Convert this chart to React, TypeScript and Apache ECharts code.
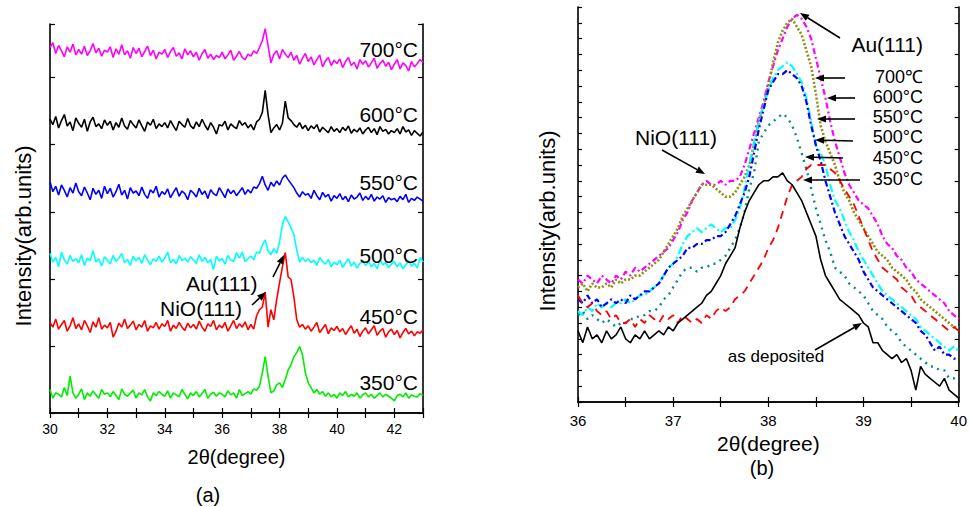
import React, { useEffect, useRef } from "react";
import * as echarts from "echarts";

// ---------- Panel (a): XRD patterns 30–43°, step 0.1 ----------
const A_X_START = 30;
const A_X_STEP = 0.1;
const A_X_TICKS = [30, 32, 34, 36, 38, 40, 42];

const a350 = [
  35, 22, 30, 28, 24, 38, 26, 55, 30, 22,
  28, 36, 20, 30, 25, 33, 27, 22, 35, 28,
  30, 24, 32, 26, 20, 36, 28, 25, 30, 34,
  22, 30, 27, 35, 24, 18, 30, 26, 32, 28,
  25, 33, 22, 30, 27, 24, 35, 28, 21, 30,
  26, 32, 24, 29, 35, 22, 28, 31, 25, 30,
  28, 24, 33, 27, 30, 22, 35, 26, 29, 32,
  28, 36, 34, 40, 60, 84, 55, 30, 33, 42,
  45, 38, 50, 64, 72, 84, 90, 99, 87, 60,
  45, 38, 30, 35, 28, 32, 25, 30, 24, 28,
  22, 30, 26, 32, 24, 28, 25, 30, 22, 27,
  30, 24, 28, 22, 26, 30, 24, 28, 25, 22,
  18, 26, 28, 24, 30, 22, 27, 25, 24, 29,
  26,
];
const a450 = [
  135, 128, 140, 125, 132, 138, 122, 130, 142, 126,
  133, 124, 138, 130, 120, 136, 128, 142, 125, 131,
  127, 135, 113, 122, 134, 128, 140, 126, 131, 137,
  124, 132, 128, 138, 122, 130, 127, 135, 125, 133,
  129, 138, 122, 131, 126, 135, 128, 123, 134, 127,
  132, 125, 137, 128, 122, 133, 129, 138, 124, 131,
  127, 135, 122, 130, 138, 126, 133, 128, 136, 124,
  132, 125, 145, 154, 158, 180, 128, 154, 139, 169,
  194, 218, 239, 203, 199, 173, 139, 128, 132, 125,
  130, 122, 128, 135, 120, 126, 132, 118, 127, 123,
  129, 121, 126, 117, 124, 130, 119, 125, 114, 122,
  127, 118, 124, 130, 116, 122, 126, 113, 121, 125,
  117, 123, 112, 120, 126, 118, 122, 115, 121, 119,
  124,
];
const a500 = [
  238, 225, 232, 218, 240, 228, 222, 235, 226, 230,
  224, 236, 220, 231, 227, 242, 225, 230, 219, 233,
  228, 222, 235, 226, 231, 238, 224, 229, 220, 234,
  227, 232, 223, 236, 228, 221, 230, 226, 234, 225,
  231, 240, 224, 229, 222, 235, 227, 231, 225, 233,
  228, 223, 236, 226, 232, 224, 229, 214, 234, 227,
  230, 222, 235, 228, 226, 239, 231, 240, 226, 230,
  234, 228, 240, 238, 250, 258, 242, 236, 245, 238,
  255, 281, 293, 285, 276, 266, 243, 225, 232, 226,
  230, 224, 228, 220, 232, 226, 222, 229, 218, 225,
  221, 228, 217, 224, 230, 219, 225, 216, 223, 227,
  220, 226, 218, 223, 215, 228, 221, 224, 217, 222,
  226, 218, 224, 215, 221, 227, 219, 223, 216, 232,
  225,
];
const a550 = [
  345, 330, 338, 325, 340, 332, 322, 336, 328, 343,
  330, 324, 337, 328, 318, 335, 326, 332, 320, 338,
  327, 335, 322, 330, 341, 325, 332, 319, 336, 328,
  331, 324, 337, 326, 320, 333, 328, 338, 322, 330,
  326, 334, 321, 329, 336, 323, 331, 327, 318, 332,
  328, 322, 335, 326, 331, 320, 333, 327, 324, 336,
  329, 321, 334, 327, 332, 324, 330, 336, 326, 333,
  328, 337, 335, 342, 353, 340, 332, 344, 338, 346,
  340, 350, 355, 348, 342, 336, 328, 322, 330, 325,
  327, 320, 332, 324, 318, 329, 322, 326, 316, 324,
  320, 327, 318, 323, 315, 325, 319, 322, 328, 317,
  323, 318, 326, 316, 322, 319, 324, 314, 321, 318,
  320, 315, 323, 318, 326, 314, 320, 317, 322, 319,
  316,
];
const a600 = [
  438, 430, 442, 425, 436, 445, 428, 434, 421, 440,
  432, 426, 438, 420, 434, 441, 427, 431, 424, 437,
  429, 435, 422, 433, 426, 440, 428, 423, 436, 430,
  425, 437, 428, 420, 434, 429, 438, 424, 431, 427,
  433, 425, 436, 428, 421, 435, 430, 426, 439, 428,
  424, 434, 427, 438, 429, 422, 433, 426, 416, 430,
  428, 435, 422, 431, 427, 424, 436, 429, 433, 425,
  430, 422, 434, 438, 448, 481, 445, 418, 425, 430,
  422, 432, 465, 440, 436, 430, 426, 433, 424, 429,
  421, 428, 424, 430, 419, 426, 422, 418, 427, 420,
  424, 418, 426, 421, 428, 417, 423, 419, 425, 416,
  422, 426, 418, 424, 415, 427, 420, 423, 416, 421,
  418, 424, 416, 427, 419, 422, 414, 421, 417, 413,
  419,
];
const a700 = [
  545, 552, 536, 548, 540, 531, 546, 538, 550, 534,
  542, 535, 547, 533, 540, 551, 537, 544, 532, 541,
  538, 546, 530, 543, 535, 549, 534, 540, 529, 545,
  536, 544, 531, 539, 547, 533, 541, 528, 538, 535,
  542, 530, 539, 545, 532, 537, 528, 543, 534, 540,
  531, 538, 526, 536, 542, 529, 535, 527, 533, 530,
  538, 528, 534, 541, 526, 532, 539, 530, 527, 535,
  532, 540, 536, 545, 555, 573, 548, 522, 535, 540,
  528, 542, 535, 530, 538, 526, 533, 520, 529, 536,
  524, 531, 519, 527, 534, 516, 525, 530, 518, 526,
  521, 528, 515, 524, 530, 518, 523, 513, 527, 520,
  525, 516, 522, 529, 514, 521, 526, 517, 523, 512,
  520, 527, 513, 522, 518, 510, 524, 516, 521, 527,
  523,
];
const A_LABELS = ["700°C", "600°C", "550°C", "500°C", "450°C", "350°C"];

// ---------- Panel (b): zoom 36–40°, step 0.05 ----------
const B_X_START = 36;
const B_X_STEP = 0.05;
const B_X_TICKS = [36, 37, 38, 39, 40];

const b700 = [
  31, 30, 32, 31, 30, 32, 31, 30, 32, 31,
  33, 32, 34, 33, 34, 35, 36, 37, 38, 39,
  41, 43, 46, 48, 51, 53, 55, 56, 55, 55,
  56, 55, 56, 56, 57, 60, 64, 68, 72, 76,
  81, 85, 89, 92, 95, 97, 98, 97, 95, 92,
  87, 82, 77, 71, 66, 62, 58, 55, 53, 51,
  50, 49, 47, 45, 42, 40, 39, 37, 36, 34,
  33, 31, 30, 29, 28, 27, 26, 25, 23, 22,
  21,
];
const b600 = [
  29, 30, 28, 30, 29, 29, 30, 29, 31, 30,
  31, 31, 32, 32, 33, 34, 35, 36, 38, 40,
  42, 44, 47, 49, 51, 53, 55, 55, 55, 54,
  53, 52, 52, 53, 55, 57, 60, 65, 71, 75,
  80, 86, 91, 94, 96, 97, 95, 93, 89, 85,
  78, 70, 66, 63, 60, 56, 53, 51, 48, 46,
  44, 42, 40, 38, 37, 36, 34, 33, 32, 31,
  29, 28, 26, 25, 24, 23, 22, 21, 20, 19,
  19,
];
const b550 = [
  23, 22, 24, 23, 25, 24, 25, 24, 25, 25,
  26, 25, 26, 27, 27, 28, 29, 30, 32, 34,
  35, 37, 40, 42, 43, 44, 43, 44, 45, 44,
  43, 44, 44, 46, 49, 54, 60, 66, 71, 75,
  79, 82, 84, 85, 86, 85, 83, 81, 77, 71,
  65, 63, 60, 55, 51, 49, 46, 43, 41, 38,
  36, 34, 32, 30, 28, 27, 26, 25, 24, 23,
  22, 21, 19, 18, 17, 16, 15, 14, 13, 14,
  13,
];
const b500 = [
  26, 25, 27, 25, 26, 24, 25, 26, 25, 26,
  25, 27, 26, 27, 28, 28, 29, 30, 32, 34,
  35, 36, 37, 39, 39, 40, 40, 41, 41, 42,
  42, 43, 45, 47, 50, 53, 57, 63, 69, 74,
  79, 81, 83, 83, 84, 83, 82, 80, 76, 70,
  65, 61, 56, 52, 48, 45, 42, 40, 38, 36,
  33, 31, 29, 28, 27, 26, 25, 24, 23, 22,
  21, 20, 18, 17, 15, 13, 14, 12, 12, 11,
  11,
];
const b450 = [
  22, 23, 21, 22, 21, 20, 21, 20, 19, 20,
  20, 21, 21, 22, 22, 23, 23, 24, 26, 27,
  29, 31, 33, 34, 34, 33, 34, 34, 35, 35,
  36, 37, 39, 41, 44, 48, 54, 58, 66, 68,
  70, 71, 72, 73, 72, 70, 67, 63, 59, 54,
  49, 45, 41, 38, 34, 33, 32, 30, 29, 28,
  27, 25, 23, 22, 21, 19, 18, 17, 15, 14,
  13, 12, 11, 10, 9, 9, 8, 8, 6, 6,
  5,
];
const b350 = [
  27, 25, 24, 25, 23, 22, 23, 21, 22, 20,
  20, 21, 19, 21, 20, 22, 21, 20, 22, 21,
  22, 20, 22, 21, 20, 21, 20, 22, 21, 23,
  24, 23, 24, 26, 27, 28, 30, 32, 34, 36,
  39, 41, 44, 48, 52, 55, 56, 57, 59, 60,
  60, 60, 60, 59, 58, 56, 54, 52, 50, 47,
  44, 41, 38, 36, 34, 33, 32, 31, 29, 28,
  27, 25, 24, 23, 22, 21, 20, 19, 18, 19,
  18,
];
const bDep = [
  18, 15, 19, 16, 17, 15, 18, 16, 17, 19,
  16, 15, 17, 16, 18, 16, 17, 18, 17, 19,
  18, 20, 21, 22, 23, 24, 25, 27, 28, 30,
  32, 35, 37, 39, 44, 48, 51, 53, 55, 56,
  56, 57, 57, 58, 56, 55, 53, 51, 48, 45,
  42, 36, 32, 30, 28, 26, 25, 24, 23, 22,
  20, 19, 15, 15, 13, 12, 11, 12, 10, 11,
  8, 3, 9, 7, 6, 5, 4, 6, 3, 2,
  1,
];
const B_LABELS = ["700℃", "600°C", "550°C", "500°C", "450°C", "350°C"];

const FONT = "Liberation Sans, Arial, sans-serif";

function pairs(start: number, step: number, vals: number[]) {
  return vals.map((v, i) => [+(start + i * step).toFixed(3), v]);
}

function arrow(x1: number, y1: number, x2: number, y2: number, head = 9, w = 3.5): any[] {
  const a = Math.atan2(y2 - y1, x2 - x1);
  const c = Math.cos(a), s = Math.sin(a);
  const bx = x2 - head * c, by = y2 - head * s;
  return [
    { type: "line", shape: { x1, y1, x2: bx, y2: by }, style: { stroke: "#000", lineWidth: 1.6 }, z: 100 },
    {
      type: "polygon",
      shape: { points: [[x2, y2], [bx + w * s, by - w * c], [bx - w * s, by + w * c]] },
      style: { fill: "#000" },
      z: 100,
    },
  ];
}

function txt(x: number, y: number, text: string, size: number, align = "left", rotation = 0): any {
  const style: any = { text, fontSize: size, fontFamily: FONT, fill: "#000", align, verticalAlign: "middle" };
  return { type: "text", x, y, rotation, z: 100, style };
}

export default function App() {
  const ref = useRef<HTMLDivElement>(null);
  useEffect(() => {
    if (!ref.current) return;
    const chart = echarts.init(ref.current, null, { renderer: "svg" });

    const axLine = { show: true, lineStyle: { color: "#000", width: 1.6 } };
    const tickIn = (len = 5) => ({ show: true, inside: true, length: len, lineStyle: { color: "#000", width: 1.2 } });
    const noSplit = { show: false };

    const aColors = ["#ff00ff", "#000000", "#0000ff", "#00ffff", "#ff0000", "#00ee00"];
    const aData = [a700, a600, a550, a500, a450, a350];

    const bDefs = [
      { d: b700, color: "#ff00ff", type: [6, 3, 2, 3], w: 2.2 },
      { d: b600, color: "#8e8e10", type: [2, 2], w: 2.6 },
      { d: b550, color: "#00ffff", type: [8, 3, 2, 3], w: 2.2 },
      { d: b500, color: "#0000ff", type: [6, 3, 2, 3], w: 2.2 },
      { d: b450, color: "#008b8b", type: [2, 5], w: 2.4 },
      { d: b350, color: "#ff0000", type: [8, 6], w: 1.8 },
      { d: bDep, color: "#000000", type: "solid", w: 1.6 },
    ];

    const series: any[] = [];
    aData.forEach((d, i) =>
      series.push({
        type: "line",
        xAxisIndex: 0,
        yAxisIndex: 0,
        data: pairs(A_X_START, A_X_STEP, d),
        showSymbol: false,
        lineStyle: { color: aColors[i], width: 1.6 },
        name: "a" + A_LABELS[i],
      })
    );
    bDefs.forEach((s, i) =>
      series.push({
        type: "line",
        xAxisIndex: 2,
        yAxisIndex: 2,
        data: pairs(B_X_START, B_X_STEP, s.d),
        showSymbol: false,
        lineStyle: { color: s.color, width: s.w, type: s.type },
        name: "b" + i,
      })
    );

    const graphics: any[] = [];
    // Panel (a) temperature labels
    const aLabelY = [49, 114, 182, 255, 316, 382];
    A_LABELS.forEach((t, i) => graphics.push(txt(418, aLabelY[i], t, 21, "right")));
    graphics.push(txt(186, 283, "Au(111)", 21));
    graphics.push(txt(160, 308, "NiO(111)", 21));
    graphics.push(...arrow(273, 277, 284, 255));
    graphics.push(...arrow(252, 305, 266, 292));
    graphics.push(txt(208, 495, "(a)", 20, "center"));
    graphics.push(txt(23, 236, "Intensity(arb.units)", 22, "center", Math.PI / 2));

    // Panel (b)
    const bLabelY = [77, 97, 117, 137, 158, 179];
    B_LABELS.forEach((t, i) => graphics.push(txt(923, bLabelY[i], t, 18, "right")));
    graphics.push(txt(923, 44, "Au(111)", 21, "right"));
    graphics.push(...arrow(840, 38, 800, 13));
    const bArrows = [
      [845, 78, 815, 78],
      [855, 98, 827, 98],
      [855, 119, 817, 119],
      [853, 141, 815, 140],
      [843, 158, 805, 157],
      [860, 180, 803, 180],
    ];
    bArrows.forEach((a) => graphics.push(...arrow(a[0], a[1], a[2], a[3])));
    graphics.push(txt(635, 137, "NiO(111)", 21));
    graphics.push(...arrow(662, 150, 705, 174));
    graphics.push(txt(776, 356, "as deposited", 17, "center"));
    graphics.push(...arrow(815, 350, 862, 323));
    graphics.push(txt(762, 468, "(b)", 20, "center"));
    graphics.push(txt(547, 221, "Intensity(arb.units)", 22, "center", Math.PI / 2));

    chart.setOption({
      animation: false,
      backgroundColor: "#fff",
      grid: [
        { left: 50, right: 547, top: 24, bottom: 94, containLabel: false },
        { left: 578, right: 8, top: 7, bottom: 105, containLabel: false },
      ],
      xAxis: [
        {
          gridIndex: 0,
          type: "value",
          position: "bottom",
          min: 30,
          max: 43,
          interval: 1,
          axisLine: axLine,
          axisTick: tickIn(5),
          splitLine: noSplit,
          axisLabel: {
            margin: 9,
            fontSize: 14,
            fontFamily: FONT,
            color: "#000",
            formatter: (v: number) => (A_X_TICKS.includes(v) ? String(v) : ""),
          },
          name: "2θ(degree)",
          nameLocation: "middle",
          nameGap: 34,
          nameTextStyle: { fontSize: 20, fontFamily: FONT, color: "#000" },
        },
        {
          gridIndex: 0,
          type: "value",
          position: "top",
          min: 30,
          max: 43,
          interval: 1,
          axisLine: axLine,
          axisTick: tickIn(5),
          splitLine: noSplit,
          axisLabel: { show: false },
        },
        {
          gridIndex: 1,
          type: "value",
          position: "bottom",
          min: 36,
          max: 40,
          interval: 0.5,
          axisLine: axLine,
          axisTick: tickIn(5),
          splitLine: noSplit,
          axisLabel: {
            margin: 11,
            fontSize: 15,
            fontFamily: FONT,
            color: "#000",
            formatter: (v: number) => (B_X_TICKS.includes(v) ? String(v) : ""),
          },
          name: "2θ(degree)",
          nameLocation: "middle",
          nameGap: 25,
          nameTextStyle: { fontSize: 21, fontFamily: FONT, color: "#000" },
        },
        {
          gridIndex: 1,
          type: "value",
          position: "top",
          min: 36,
          max: 40,
          interval: 0.5,
          axisLine: axLine,
          axisTick: tickIn(5),
          splitLine: noSplit,
          axisLabel: { show: false },
        },
      ],
      yAxis: [
        {
          gridIndex: 0,
          type: "value",
          position: "left",
          min: 0,
          max: 580,
          interval: 100,
          axisLine: axLine,
          axisTick: tickIn(5),
          splitLine: noSplit,
          axisLabel: { show: false },
        },
        {
          gridIndex: 0,
          type: "value",
          position: "right",
          min: 0,
          max: 580,
          interval: 100,
          axisLine: axLine,
          axisTick: tickIn(5),
          splitLine: noSplit,
          axisLabel: { show: false },
        },
        {
          gridIndex: 1,
          type: "value",
          position: "left",
          min: 0,
          max: 100,
          interval: 4,
          axisLine: axLine,
          axisTick: tickIn(4),
          splitLine: noSplit,
          axisLabel: { show: false },
        },
        {
          gridIndex: 1,
          type: "value",
          position: "right",
          min: 0,
          max: 100,
          interval: 8,
          axisLine: axLine,
          axisTick: tickIn(4),
          splitLine: noSplit,
          axisLabel: { show: false },
        },
      ],
      series,
      graphic: graphics,
    });
    return () => chart.dispose();
  }, []);

  return <div ref={ref} style={{ width: 970, height: 507, position: "absolute", left: 0, top: 0, background: "#fff" }} />;
}
